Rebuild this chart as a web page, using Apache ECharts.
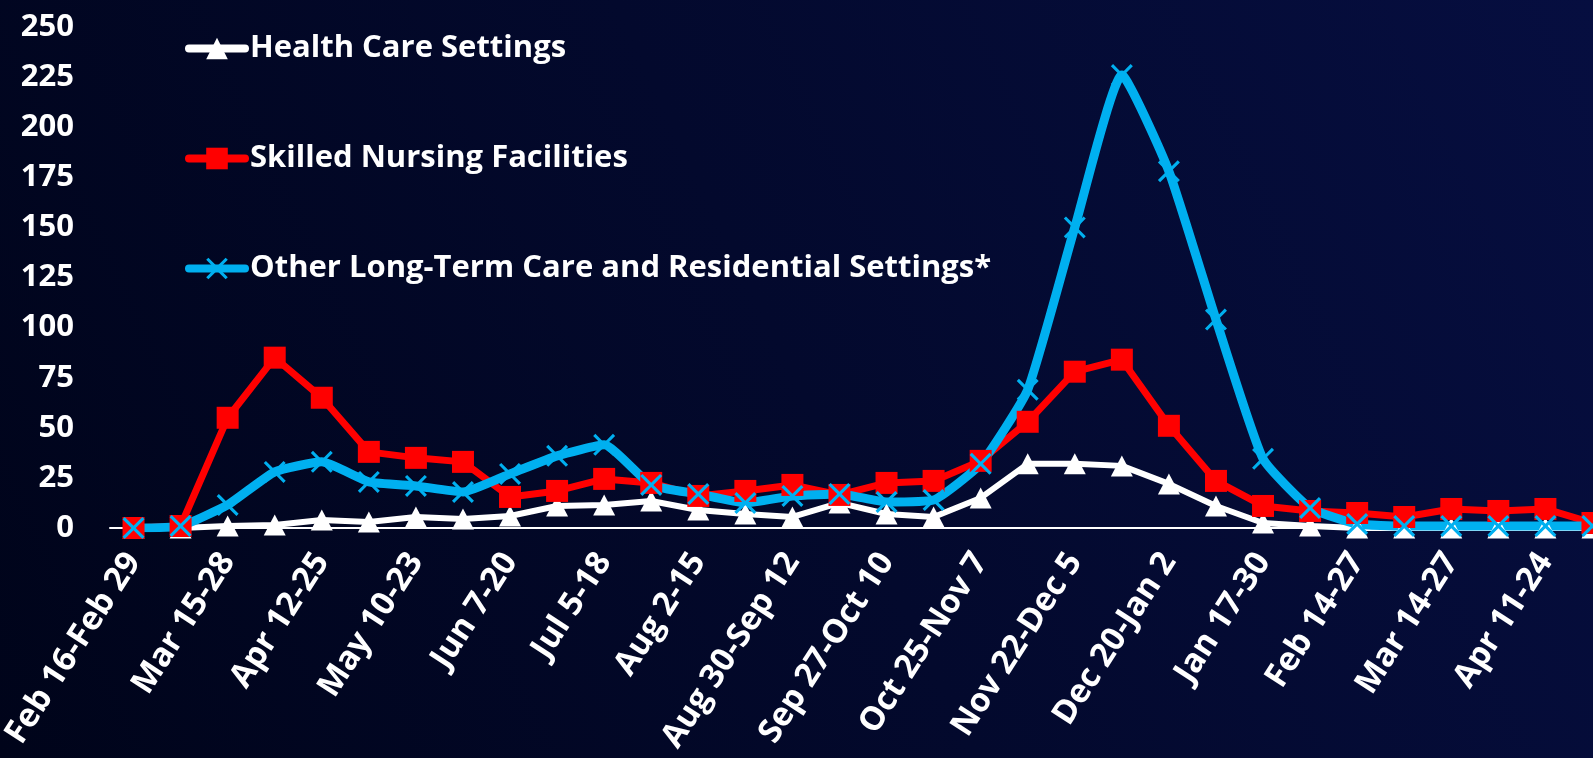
<!DOCTYPE html>
<html>
<head>
<meta charset="utf-8">
<script src="https://cdn.jsdelivr.net/npm/echarts@6/dist/echarts.min.js"></script>
<style>
  html, body { margin: 0; padding: 0; width: 100%; height: 100%; overflow: hidden; }
  #chart { width: 1593px; height: 758px; }
</style>
</head>
<body>
<div id="chart"></div>
<script>
// Two-week periods, Feb 2020 - May 2021
const periods = [
  'Feb 16-Feb 29', 'Mar 1-14', 'Mar 15-28', 'Mar 29-Apr 11', 'Apr 12-25', 'Apr 26-May 9',
  'May 10-23', 'May 24-Jun 6', 'Jun 7-20', 'Jun 21-Jul 4', 'Jul 5-18', 'Jul 19-Aug 1',
  'Aug 2-15', 'Aug 16-29', 'Aug 30-Sep 12', 'Sep 13-26', 'Sep 27-Oct 10', 'Oct 11-24',
  'Oct 25-Nov 7', 'Nov 8-21', 'Nov 22-Dec 5', 'Dec 6-19', 'Dec 20-Jan 2', 'Jan 3-16',
  'Jan 17-30', 'Jan 31-Feb 13', 'Feb 14-27', 'Feb 28-Mar 13', 'Mar 14-27', 'Mar 28-Apr 10',
  'Apr 11-24', 'Apr 25-May 8'
]

const healthCare = [0, 0, 1, 1.5, 4, 3, 5.5, 4.5, 6, 11, 11.5, 13.5, 9, 7, 5.5, 12.5,
  7, 5.5, 15, 32, 32, 31, 22, 11, 2.5, 1, 0, 0, 0, 0, 0, 0]
const skilledNursing = [0, 1, 55, 85, 65, 38, 35, 33, 15.5, 18.5, 24.5, 22.5, 16, 18.5, 21.5, 16.5,
  22.5, 23.5, 33.5, 53, 78, 84, 51, 23.5, 11, 8.5, 7.5, 5.5, 9.5, 8.5, 9.5, 2.5]
const otherLongTerm = [0, 1, 11.5, 28, 33, 23, 21, 18, 27, 36, 41.5, 21.5, 17, 12.5, 16, 17,
  13, 14, 32, 69, 150, 226, 178, 104, 34.5, 10, 2, 1, 1, 1, 1, 1]

const yTicks = { min: 0, max: 250, interval: 25 }

const FONT = 'Open Sans'
const crossSymbol = 'path://M1,0L5,4L9,0L10,1L6,5L10,9L9,10L5,6L1,10L0,9L4,5L0,1Z'

const chart = echarts.init(document.getElementById('chart'), null, { renderer: 'canvas' })

chart.setOption({
  animation: false,
  backgroundColor: {
    type: 'linear', x: 0, y: 1, x2: 1, y2: 0,
    colorStops: [
      { offset: 0, color: '#00041a' },
      { offset: 1, color: '#060e40' }
    ]
  },
  textStyle: { fontFamily: FONT },
  legend: {
    orient: 'vertical',
    left: 180,
    top: 28,
    itemWidth: 56,
    itemHeight: 27,
    itemGap: 79,
    lineStyle: { width: 8, cap: 'round' },
    textStyle: { color: '#ffffff', fontSize: 31, fontWeight: 'bold', fontFamily: FONT },
    data: ['Health Care Settings', 'Skilled Nursing Facilities',
      'Other Long-Term Care and Residential Settings*']
  },
  grid: {
    left: 110, right: -23, top: 27, bottom: 230,
    containLabel: false, outerBoundsMode: 'none'
  },
  xAxis: {
    type: 'category',
    data: periods,
    boundaryGap: true,
    axisLine: { lineStyle: { color: '#ffffff', width: 2 } },
    axisTick: { show: false },
    axisLabel: {
      interval: 1,
      rotate: 57,
      margin: 28,
      color: '#ffffff',
      fontSize: 33,
      fontWeight: 'bold',
      fontFamily: FONT
    },
    splitLine: { show: false }
  },
  yAxis: {
    type: 'value',
    min: yTicks.min,
    max: yTicks.max,
    interval: yTicks.interval,
    axisLine: { show: false },
    axisTick: { show: false },
    splitLine: { show: false },
    axisLabel: {
      margin: 36,
      color: '#ffffff',
      fontSize: 31,
      fontWeight: 'bold',
      fontFamily: FONT
    }
  },
  series: [
    {
      name: 'Health Care Settings',
      type: 'line',
      data: healthCare,
      symbol: 'triangle',
      symbolSize: [22, 21],
      showAllSymbol: true,
      lineStyle: { color: '#ffffff', width: 6 },
      itemStyle: { color: '#ffffff' }
    },
    {
      name: 'Skilled Nursing Facilities',
      type: 'line',
      data: skilledNursing,
      symbol: 'rect',
      symbolSize: 22,
      showAllSymbol: true,
      lineStyle: { color: '#ff0000', width: 7 },
      itemStyle: { color: '#ff0000' }
    },
    {
      name: 'Other Long-Term Care and Residential Settings*',
      type: 'line',
      data: otherLongTerm,
      smooth: 0.15,
      symbol: crossSymbol,
      symbolSize: 22,
      showAllSymbol: true,
      lineStyle: { color: '#00b0f0', width: 9 },
      itemStyle: { color: '#00b0f0' }
    }
  ]
})
</script>
</body>
</html>
